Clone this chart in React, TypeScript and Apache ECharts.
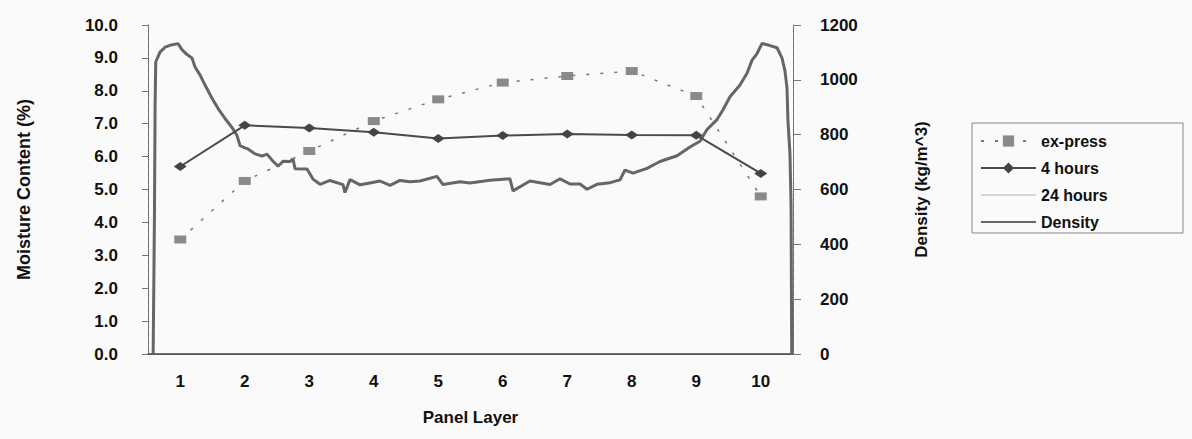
import React, { useEffect, useRef } from "react";
import * as echarts from "echarts";

const categories = ["1", "2", "3", "4", "5", "6", "7", "8", "9", "10"];
const exPress = [3.48, 5.26, 6.17, 7.08, 7.74, 8.25, 8.45, 8.6, 7.84, 4.79];
const fourHours = [5.7, 6.95, 6.87, 6.74, 6.55, 6.64, 6.69, 6.66, 6.65, 5.49];
const twentyFourHours: number[] = [];

// density profile: position across the panel (in panel-layer units) and density (kg/m^3)
const densityPosition = [
  0.58, 0.6, 0.61, 0.62, 0.686, 0.764, 0.841, 0.965, 1.026, 1.105, 1.182, 1.229, 1.306, 1.384,
  1.492, 1.585, 1.694, 1.802, 1.88, 1.926, 2.004, 2.05, 2.159, 2.267, 2.345, 2.438, 2.516, 2.593,
  2.702, 2.748, 2.779, 2.965, 3.058, 3.167, 3.322, 3.523, 3.554, 3.632, 3.787, 3.94, 4.097, 4.252,
  4.407, 4.562, 4.717, 4.98, 5.074, 5.337, 5.492, 5.802, 6.112, 6.159, 6.422, 6.733, 6.888, 7.043,
  7.198, 7.306, 7.461, 7.663, 7.818, 7.895, 8.019, 8.236, 8.438, 8.702, 8.903, 9.058, 9.167, 9.322,
  9.415, 9.523, 9.678, 9.787, 9.864, 9.942, 10.02, 10.143, 10.252, 10.329, 10.376, 10.407, 10.422,
  10.453, 10.47, 10.48,
];
const densityValue = [
  0, 500, 900, 1065, 1101, 1119, 1126, 1132, 1110, 1092, 1080, 1047, 1018, 981, 933, 896, 859, 826,
  797, 760, 752, 748, 730, 722, 729, 703, 685, 703, 702, 712, 676, 675, 638, 619, 633, 618, 589, 636,
  617, 624, 631, 615, 633, 628, 631, 648, 618, 628, 624, 634, 639, 595, 631, 618, 639, 620, 620, 601,
  619, 625, 635, 671, 660, 677, 702, 723, 755, 776, 819, 855, 891, 938, 981, 1024, 1071, 1096, 1133,
  1125, 1117, 1080, 1032, 970, 850, 730, 540, 0,
];

const moistureMin = 0;
const moistureMax = 10;
const moistureStep = 1;
const densityMin = 0;
const densityMax = 1200;
const densityStep = 200;

const FONT = "'Liberation Sans', Arial, sans-serif";

export default function App() {
  const ref = useRef<HTMLDivElement>(null);
  useEffect(() => {
    if (!ref.current) return;
    const chart = echarts.init(ref.current, undefined, { renderer: "svg" });
    const labelStyle = { color: "#111", fontFamily: FONT, fontWeight: "bold" as const, fontSize: 17 };
    chart.setOption({
      animation: false,
      backgroundColor: "#fafafa",
      grid: { left: 148, right: 399, top: 25, bottom: 85 },
      legend: {
        left: 972,
        top: 123,
        orient: "vertical",
        padding: [10, 8, 8, 8],
        itemWidth: 55,
        itemHeight: 14,
        itemGap: 11,
        textStyle: { color: "#111", fontFamily: FONT, fontWeight: "bold", fontSize: 16 },
        data: [
          { name: "ex-press" },
          { name: "4 hours" },
          { name: "24 hours", itemStyle: { opacity: 0 } },
          { name: "Density", itemStyle: { opacity: 0 } },
        ],
      },
      graphic: [
        {
          type: "rect",
          shape: { x: 972, y: 123, width: 211, height: 110 },
          style: { fill: "rgba(0,0,0,0)", stroke: "#888", lineWidth: 1 },
        },
      ],
      xAxis: [
        {
          type: "category",
          data: categories,
          boundaryGap: true,
          position: "bottom",
          axisLine: { lineStyle: { color: "#444", width: 1.5 } },
          axisTick: { show: false },
          axisLabel: { ...labelStyle, margin: 19 },
          name: "Panel Layer",
          nameLocation: "middle",
          nameGap: 55,
          nameTextStyle: { ...labelStyle, fontSize: 17 },
        },
        {
          type: "value",
          min: 0.5,
          max: 10.5,
          position: "top",
          axisLine: { show: true, lineStyle: { color: "#555", width: 1, type: "dotted" } },
          axisTick: { show: false },
          axisLabel: { show: false },
          splitLine: { show: false },
        },
      ],
      yAxis: [
        {
          type: "value",
          min: moistureMin,
          max: moistureMax,
          interval: moistureStep,
          position: "left",
          axisLine: { show: true, lineStyle: { color: "#555", width: 1, type: "dotted" } },
          axisTick: { show: true, length: 6, lineStyle: { color: "#777" } },
          axisLabel: { ...labelStyle, margin: 30, formatter: (v: number) => v.toFixed(1) },
          splitLine: { show: false },
          name: "Moisture Content (%)",
          nameLocation: "middle",
          nameGap: 115,
          nameTextStyle: { ...labelStyle, fontSize: 18 },
        },
        {
          type: "value",
          min: densityMin,
          max: densityMax,
          interval: densityStep,
          position: "right",
          axisLine: { show: true, lineStyle: { color: "#555", width: 1, type: "dotted" } },
          axisTick: { show: true, length: 8, lineStyle: { color: "#777" } },
          axisLabel: { ...labelStyle, margin: 27, formatter: (v: number) => String(v) },
          splitLine: { show: false },
          name: "Density (kg/m^3)",
          nameLocation: "middle",
          nameGap: 120,
          nameTextStyle: { ...labelStyle, fontSize: 17 },
        },
      ],
      series: [
        {
          name: "ex-press",
          type: "line",
          xAxisIndex: 0,
          yAxisIndex: 0,
          data: exPress,
          symbol: "rect",
          symbolSize: [12, 8],
          itemStyle: { color: "#8a8a8a" },
          lineStyle: { color: "#777", width: 1.5, type: [3, 11] },
          z: 3,
        },
        {
          name: "4 hours",
          type: "line",
          xAxisIndex: 0,
          yAxisIndex: 0,
          data: fourHours,
          symbol: "diamond",
          symbolSize: [13, 9],
          itemStyle: { color: "#444" },
          lineStyle: { color: "#4a4a4a", width: 2 },
          z: 4,
        },
        {
          name: "24 hours",
          type: "line",
          xAxisIndex: 0,
          yAxisIndex: 0,
          data: twentyFourHours,
          symbol: "none",
          itemStyle: { color: "#d6d6d6" },
          lineStyle: { color: "#d6d6d6", width: 1 },
        },
        {
          name: "Density",
          type: "line",
          xAxisIndex: 1,
          yAxisIndex: 1,
          data: densityPosition.map((p, i) => [p, densityValue[i]]),
          symbol: "none",
          itemStyle: { color: "#666" },
          lineStyle: { color: "#666", width: 3 },
          z: 2,
        },
      ],
    });
    return () => chart.dispose();
  }, []);
  return <div ref={ref} style={{ position: "fixed", left: 0, top: 0, width: 1192, height: 439 }} />;
}
